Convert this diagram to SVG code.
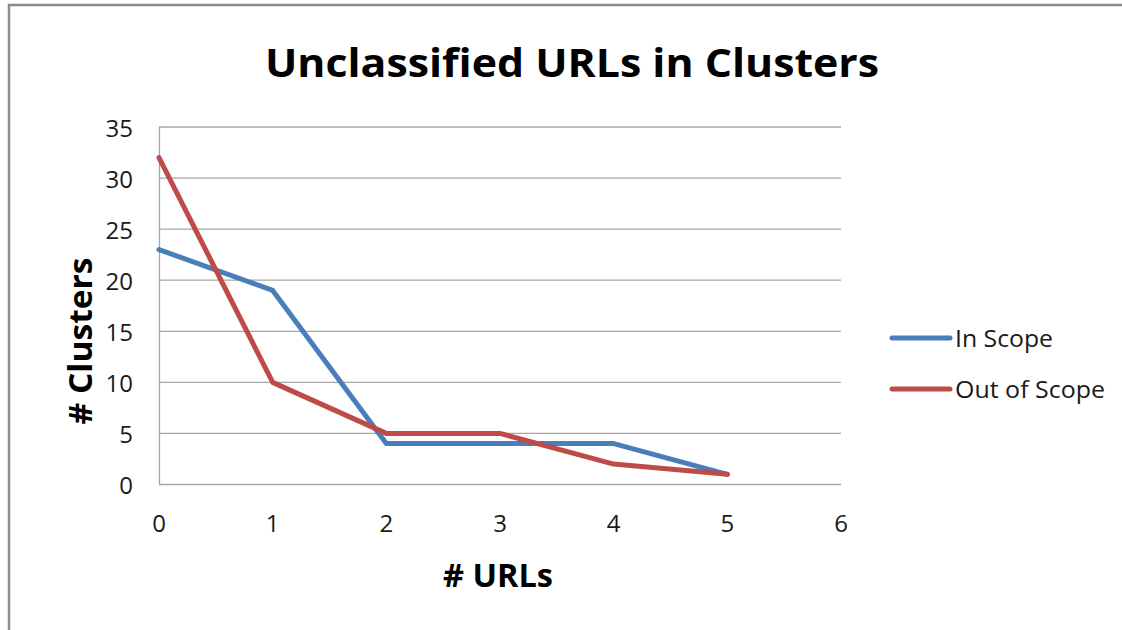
<svg xmlns="http://www.w3.org/2000/svg" width="1122" height="630" viewBox="0 0 1122 630">
<style>
.grid{stroke:#a6a6a6;stroke-width:1.3;fill:none}
.axis{stroke:#a6a6a6;stroke-width:1.3;fill:none}
.lbl{font-family:"Open Sans","Liberation Sans",Arial,sans-serif;font-size:24px;fill:#1a1a1a}
.ttl{font-family:"Open Sans","Liberation Sans",Arial,sans-serif;font-weight:bold;fill:#000}
.s1{stroke:#4a7ebb;stroke-width:5;fill:none;stroke-linejoin:round;stroke-linecap:round}
.s2{stroke:#be4b48;stroke-width:5;fill:none;stroke-linejoin:round;stroke-linecap:round}
</style>
<rect x="0" y="0" width="1122" height="630" fill="#ffffff"/>
<path d="M9,630 V5 H1122" stroke="#8c8c8c" stroke-width="2.5" fill="none"/>
<g id="title"><text class="ttl" x="572" y="77" font-size="40" text-anchor="middle" textLength="614" lengthAdjust="spacingAndGlyphs">Unclassified URLs in Clusters</text></g>
<g id="gridlines">
<line class="grid" x1="159" y1="127" x2="841" y2="127"/>
<line class="grid" x1="159" y1="178.1" x2="841" y2="178.1"/>
<line class="grid" x1="159" y1="229.1" x2="841" y2="229.1"/>
<line class="grid" x1="159" y1="280.2" x2="841" y2="280.2"/>
<line class="grid" x1="159" y1="331.3" x2="841" y2="331.3"/>
<line class="grid" x1="159" y1="382.4" x2="841" y2="382.4"/>
<line class="grid" x1="159" y1="433.4" x2="841" y2="433.4"/>
<line class="axis" x1="159" y1="484.5" x2="841" y2="484.5"/>
<line class="axis" x1="159.5" y1="127" x2="159.5" y2="484.5"/>
</g>
<g id="y-labels" class="lbl" text-anchor="end">
<text x="133" y="137">35</text>
<text x="133" y="188">30</text>
<text x="133" y="239">25</text>
<text x="133" y="290">20</text>
<text x="133" y="341">15</text>
<text x="133" y="392">10</text>
<text x="133" y="443">5</text>
<text x="133" y="494">0</text>
</g>
<g id="x-labels" class="lbl" text-anchor="middle">
<text x="159" y="532">0</text>
<text x="272.7" y="532">1</text>
<text x="386.3" y="532">2</text>
<text x="500" y="532">3</text>
<text x="613.7" y="532">4</text>
<text x="727.3" y="532">5</text>
<text x="841" y="532">6</text>
</g>
<g id="axis-titles">
<text class="ttl" x="498" y="587" font-size="32" text-anchor="middle" textLength="110" lengthAdjust="spacingAndGlyphs"># URLs</text>
<text class="ttl" x="0" y="0" font-size="32" text-anchor="middle" textLength="167" lengthAdjust="spacingAndGlyphs" transform="translate(92,341) rotate(-90)"># Clusters</text>
</g>
<g id="connectors">
<polyline id="in-scope" class="s1" points="159,249.6 272.7,290.4 386.3,443.6 500,443.6 613.7,443.6 727.3,474.3"/>
<polyline id="out-of-scope" class="s2" points="159,157.6 272.7,382.4 386.3,433.4 500,433.4 613.7,464.1 727.3,474.3"/>
</g>
<g id="legend">
<line class="s1" x1="892" y1="338" x2="950" y2="338"/>
<text class="lbl" x="955" y="347" textLength="98" lengthAdjust="spacingAndGlyphs">In Scope</text>
<line class="s2" x1="892" y1="389" x2="950" y2="389"/>
<text class="lbl" x="955" y="398" textLength="150" lengthAdjust="spacingAndGlyphs">Out of Scope</text>
</g>
</svg>
